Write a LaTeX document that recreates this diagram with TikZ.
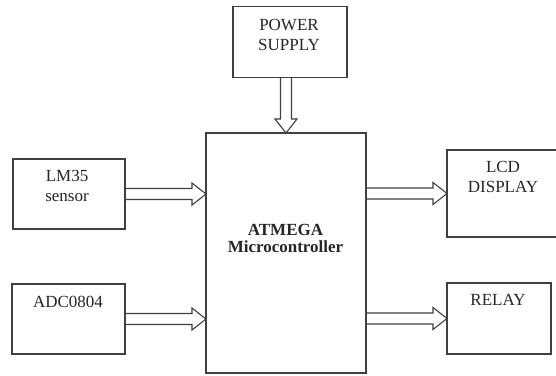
\documentclass[tikz,border=0pt]{standalone}
\usepackage{fontspec}
\setmainfont{Liberation Serif}
\usetikzlibrary{calc}

\tikzset{
  blk/.style={draw=black!75, line width=1.1pt, inner sep=0pt, outer sep=0pt},
  lbl/.style={text=black!85, align=center, inner sep=0pt, font=\fontsize{17}{20}\selectfont},
  hollow/.style={draw=black!75, line width=1.1pt, line join=miter,
    to path={let \p1=(\tikztostart), \p2=(\tikztotarget) in
      (\x1,{\y1+5.5pt}) -- ({\x2-14pt},{\y1+5.5pt}) -- ({\x2-14pt},{\y1+11pt}) -- (\x2,\y1)
      -- ({\x2-14pt},{\y1-11pt}) -- ({\x2-14pt},{\y1-5.5pt}) -- (\x1,{\y1-5.5pt})}},
  hollowdown/.style={draw=black!75, line width=1.1pt, line join=miter,
    to path={let \p1=(\tikztostart), \p2=(\tikztotarget) in
      ({\x1-5.5pt},\y1) -- ({\x1-5.5pt},{\y2+14pt}) -- ({\x1-11pt},{\y2+14pt}) -- (\x1,\y2)
      -- ({\x1+11pt},{\y2+14pt}) -- ({\x1+5.5pt},{\y2+14pt}) -- ({\x1+5.5pt},\y1)}}
}

\begin{document}
\begin{tikzpicture}[x=1pt, y=-1pt]
    \fill[white] (0,0) rectangle (556,375);
    \clip (0,0) rectangle (556,375);
    % blocks
    \node[blk, minimum width=114pt, minimum height=71pt] (power) at (290,42) {};
    \node[blk, minimum width=160pt, minimum height=240pt] (micro) at (286,253) {};
    \node[blk, minimum width=112pt, minimum height=70pt] (lm35) at (69,194) {};
    \node[blk, minimum width=113pt, minimum height=70pt] (adc) at (68.5,319) {};
    \node[blk, minimum width=112pt, minimum height=87pt] (lcd) at (503,193.5) {};
    \node[blk, minimum width=104pt, minimum height=71pt] (relay) at (499,318.5) {};
    % texts
    \node[lbl] (power-txt) at (289,34.5) {POWER\\SUPPLY};
    \node[lbl, font=\fontsize{17}{17.5}\selectfont\bfseries] (micro-txt) at (285.5,238.5) {ATMEGA\\Microcontroller};
    \node[lbl] (lm35-txt) at (67,186) {LM35\\sensor};
    \node[lbl] (adc-txt) at (68,302) {ADC0804};
    \node[lbl] (lcd-txt) at (503,177) {LCD\\DISPLAY};
    \node[lbl] (relay-txt) at (498,300) {RELAY};
    % arrows
    \draw[hollowdown] (power.south -| micro.north) to (micro.north);
    \draw[hollow] (lm35.east) to (micro.west |- lm35.east);
    \draw[hollow] (adc.east) to (micro.west |- adc.east);
    \draw[hollow] (micro.east |- lcd.west) to (lcd.west);
    \draw[hollow] (micro.east |- relay.west) to (relay.west);
\end{tikzpicture}
\end{document}
